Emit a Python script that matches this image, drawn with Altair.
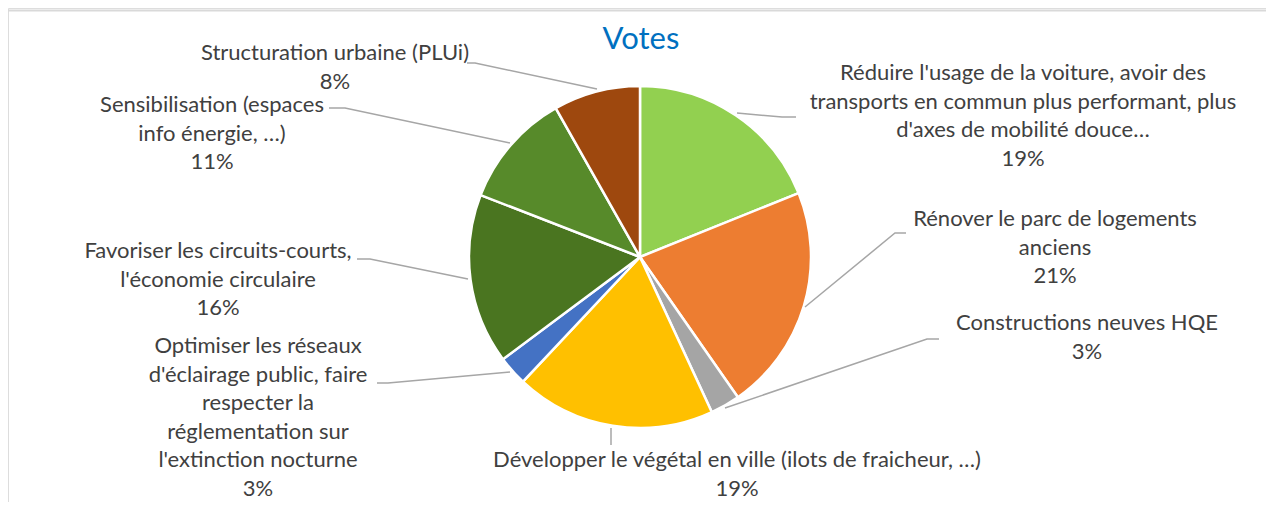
import altair as alt
import pandas as pd

# ---- data ----
categories = [
    "Réduire l'usage de la voiture, avoir des transports en commun plus performant, plus d'axes de mobilité douce…",
    "Rénover le parc de logements anciens",
    "Constructions neuves HQE",
    "Développer le végétal en ville (ilots de fraicheur, …)",
    "Optimiser les réseaux d'éclairage public, faire respecter la réglementation sur l'extinction nocturne",
    "Favoriser les circuits-courts, l'économie circulaire",
    "Sensibilisation (espaces info énergie, …)",
    "Structuration urbaine (PLUi)",
]
shares = [18.9, 21.4, 2.8, 18.9, 2.8, 16.1, 10.9, 8.2]
colors = ["#92D050", "#ED7D31", "#A5A5A5", "#FFC000", "#4472C4", "#4A7520", "#578A2A", "#9E480E"]

# label wrapping as displayed
wrapped = [
    "Réduire l'usage de la voiture, avoir des\ntransports en commun plus performant, plus\nd'axes de mobilité douce…",
    "Rénover le parc de logements\nanciens",
    "Constructions neuves HQE",
    "Développer le végétal en ville (ilots de fraicheur, …)",
    "Optimiser les réseaux\nd'éclairage public, faire\nrespecter la\nréglementation sur\nl'extinction nocturne",
    "Favoriser les circuits-courts,\nl'économie circulaire",
    "Sensibilisation (espaces\ninfo énergie, …)",
    "Structuration urbaine (PLUi)",
]

# ---- layout (pixel positions inside the plot area; page coords minus 8) ----
OFF = 8
label_pos = [(1023, 80), (1055, 226), (1087, 330), (737, 467), (258, 353), (218, 258), (212, 112), (335, 60)]
leaders = [
    [(737, 113), (782, 117), (796, 117)],
    [(805, 307), (895, 233), (906, 233)],
    [(725, 408), (927, 339), (939, 339)],
    [(611, 428), (611, 445)],
    [(377, 383), (388, 383), (510, 372)],
    [(357, 259), (370, 259), (468, 279)],
    [(329, 108), (345, 108), (510, 143)],
    [(467, 63), (475, 63), (597, 89)],
]
CX, CY, R = 640 - OFF, 257 - OFF, 171
FONT = "Lato"
TXT = "#404040"

slices = pd.DataFrame({"cat": categories, "share": shares, "idx": range(len(shares))})

labels = pd.DataFrame({
    "cat": categories,
    "share": shares,
    "wrapped": wrapped,
    "lx": [p[0] - OFF for p in label_pos],
    "ly": [p[1] - OFF for p in label_pos],
})

lines_rows = []
for i, pts in enumerate(leaders):
    for j, (x, y) in enumerate(pts):
        lines_rows.append({"lid": i, "o": j, "px": x - OFF, "py": y - OFF})
lines_df = pd.DataFrame(lines_rows)

border = alt.Chart(pd.DataFrame({"a": [0]})).mark_rect(
    fill=None, stroke="#D9D9D9", strokeWidth=2
).encode(
    x=alt.value(6.5 - OFF), y=alt.value(10.5 - OFF), x2=alt.value(1400), y2=alt.value(700)
)

pie = alt.Chart(slices).mark_arc(stroke="white", strokeWidth=2.5, radius=R).encode(
    theta=alt.Theta("share:Q", stack=True),
    order=alt.Order("idx:Q"),
    color=alt.Color("cat:N", scale=alt.Scale(domain=categories, range=colors), legend=None, sort=None),
    x=alt.value(CX),
    y=alt.value(CY),
)

leader = alt.Chart(lines_df).mark_line(color="#A6A6A6", strokeWidth=1.5).encode(
    x=alt.X("px:Q", scale=None),
    y=alt.Y("py:Q", scale=None),
    detail="lid:N",
    order="o:Q",
)

text = alt.Chart(labels).transform_joinaggregate(
    total="sum(share)"
).transform_calculate(
    txt="datum.wrapped + '\\n' + format(datum.share / datum.total, '.0%')"
).mark_text(
    font=FONT, fontSize=22, color=TXT, align="center", baseline="alphabetic",
    lineBreak="\n", lineHeight=28.5
).encode(
    x=alt.X("lx:Q", scale=None),
    y=alt.Y("ly:Q", scale=None),
    text="txt:N",
)

title = alt.Chart(pd.DataFrame({"t": ["Votes"]})).mark_text(
    font=FONT, fontSize=31, color="#0070C0", align="center", baseline="alphabetic"
).encode(
    x=alt.value(641 - OFF), y=alt.value(49 - OFF), text="t:N"
)

chart = alt.layer(border, pie, leader, text, title).properties(
    width=1258, height=494, padding=0, autosize="none"
).configure_view(stroke=None).configure(background="white")

chart.save("out.html", embed_options={"renderer": "svg", "actions": False})
